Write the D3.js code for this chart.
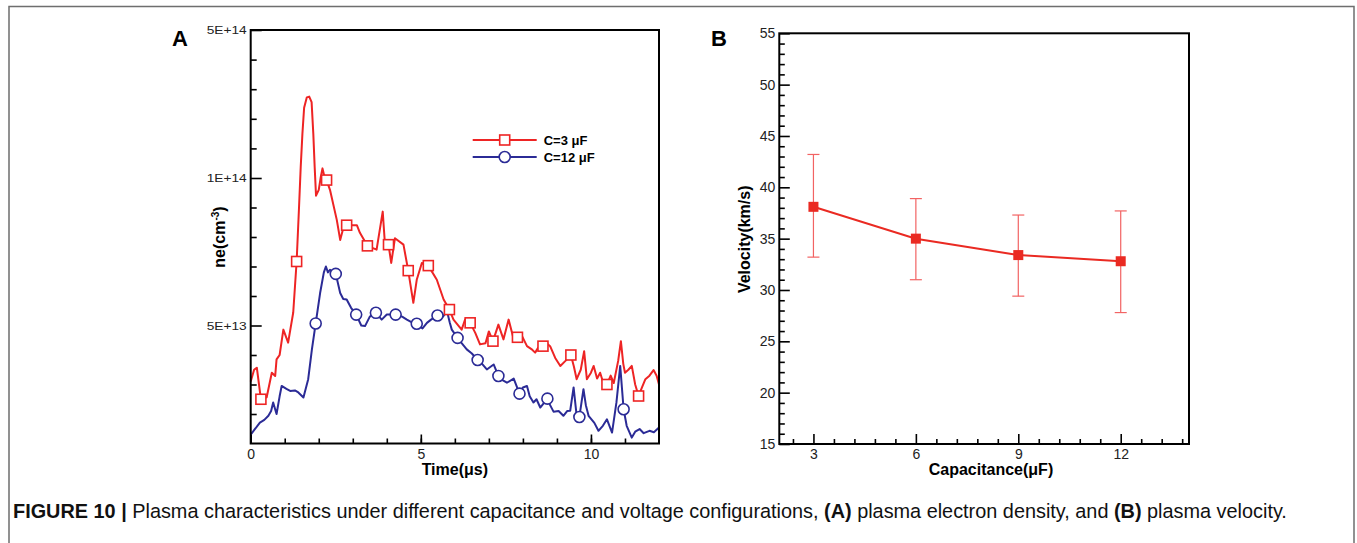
<!DOCTYPE html>
<html>
<head>
<meta charset="utf-8">
<script src="https://cdn.jsdelivr.net/npm/d3@7"></script>
<style>
  body { margin: 0; background: #fff; }
  svg, svg text { font-family: "Liberation Sans", Arial, sans-serif; }
</style>
</head>
<body>
<div id="chart"></div>
<script>
// ---- panel A: electron density (values in units of 1E+13 cm^-3) ----
const redT = [0, 0.1, 0.18, 0.3, 0.47, 0.62, 0.72, 0.76, 0.85, 0.96, 1.1, 1.25, 1.35, 1.42, 1.47, 1.52, 1.57, 1.65, 1.72, 1.79, 1.84, 1.88, 1.92, 2.0, 2.06, 2.11, 2.15, 2.23, 2.33, 2.53, 2.63, 2.72, 2.82, 3.12, 3.21, 3.43, 3.7, 3.88, 3.95, 4.05, 4.13, 4.24, 4.49, 4.63, 4.78, 4.88, 5.03, 5.22, 5.47, 5.67, 5.84, 5.96, 6.2, 6.3, 6.45, 6.6, 6.74, 6.9, 7.0, 7.12, 7.28, 7.43, 7.58, 7.73, 7.84, 7.95, 8.12, 8.25, 8.36, 8.45, 8.59, 8.7, 8.8, 8.95, 9.1, 9.25, 9.41, 9.5, 9.58, 9.7, 9.8, 9.88, 10.0, 10.08, 10.18, 10.27, 10.35, 10.47, 10.58, 10.67, 10.8, 10.88, 10.95, 11.0, 11.1, 11.2, 11.3, 11.4, 11.5, 11.6, 11.72, 11.84, 11.93, 12];
const redV = [3.1, 3.5, 3.57, 2.5, 2.57, 3.4, 3.29, 3.85, 4.0, 4.86, 4.42, 5.44, 7.17, 9.0, 13, 22, 29, 31.8, 32, 30.5, 22, 13, 9.4, 9.6, 10.3, 12.6, 11, 9.93, 9.6, 8.58, 7.9, 8.3, 8.4, 8.4, 8.14, 7.7, 7.57, 8.86, 7.68, 7.74, 7.12, 7.96, 7.74, 6.86, 5.77, 6.55, 7.12, 7.03, 6.55, 5.88, 5.54, 5.2, 4.86, 5.2, 5.09, 4.75, 4.36, 4.4, 4.8, 4.47, 5.03, 4.53, 5.2, 4.53, 4.6, 4.7, 4.3, 4.2, 4.08, 4.25, 4.3, 4.4, 4.3, 3.9, 3.63, 3.8, 4.0, 3.6, 3.18, 3.5, 4.13, 3.18, 3.4, 3.63, 3.2, 3.4, 3.1, 3.0, 3.3, 3.05, 3.8, 4.47, 3.7, 3.4, 3.5, 3.63, 3.0, 2.61, 2.9, 3.18, 3.3, 3.49, 3.3, 3.0];
const redMarks = [0.3, 1.35, 2.23, 2.82, 3.43, 4.05, 4.63, 5.22, 5.84, 6.45, 7.12, 7.84, 8.59, 9.41, 10.47, 11.4];

const blueT = [0, 0.1, 0.27, 0.4, 0.52, 0.6, 0.66, 0.76, 0.85, 0.91, 1.05, 1.16, 1.3, 1.4, 1.55, 1.69, 1.8, 1.91, 2.04, 2.15, 2.21, 2.27, 2.33, 2.5, 2.63, 2.72, 2.82, 2.95, 3.1, 3.25, 3.36, 3.5, 3.68, 3.85, 4.0, 4.26, 4.45, 4.59, 4.75, 4.88, 5.05, 5.18, 5.3, 5.49, 5.65, 5.77, 5.85, 5.91, 6.08, 6.2, 6.35, 6.5, 6.67, 6.8, 6.94, 7.14, 7.28, 7.4, 7.53, 7.73, 7.9, 8.0, 8.12, 8.2, 8.31, 8.4, 8.51, 8.72, 8.8, 8.9, 9.05, 9.19, 9.3, 9.39, 9.49, 9.58, 9.66, 9.78, 9.85, 9.93, 10.1, 10.22, 10.35, 10.47, 10.62, 10.75, 10.86, 10.96, 11.05, 11.2, 11.3, 11.43, 11.55, 11.72, 11.85, 12];
const blueV = [1.3, 1.45, 1.71, 1.8, 1.94, 2.1, 2.39, 2.0, 2.6, 2.95, 2.85, 2.78, 2.8, 2.73, 2.56, 3.18, 4.2, 5.07, 6.1, 6.8, 7.0, 6.8, 6.89, 6.75, 6.1, 5.9, 5.88, 5.6, 5.37, 5.0, 4.98, 5.3, 5.43, 5.2, 5.37, 5.37, 5.3, 5.2, 5.1, 5.06, 4.9, 5.09, 5.2, 5.34, 5.3, 5.48, 5.1, 4.86, 4.58, 4.4, 4.19, 4.05, 3.83, 3.7, 3.51, 3.68, 3.29, 3.15, 3.06, 3.2, 2.69, 2.9, 2.95, 2.6, 2.39, 2.5, 2.22, 2.52, 2.3, 2.08, 2.1, 1.94, 2.1, 2.11, 2.9, 1.94, 1.9, 2.84, 2.3, 1.94, 1.7, 1.43, 1.6, 1.82, 1.37, 2.4, 3.63, 2.16, 1.6, 1.2, 1.4, 1.49, 1.35, 1.43, 1.38, 1.54];
const blueMarks = [1.91, 2.5, 3.1, 3.68, 4.26, 4.88, 5.49, 6.08, 6.67, 7.28, 7.9, 8.72, 9.66, 10.96];

const legendA = ["C=3 \u03bcF", "C=12 \u03bcF"];
const neMajor = [5, 10, 50];
const neMajorLabels = ["5E+13", "1E+14", "5E+14"];
const neMinor = [2, 3, 4, 6, 7, 8, 9, 18, 26, 34, 42];

// ---- panel B: velocity vs capacitance ----
const capC = [3, 6, 9, 12];
const velV = [38.1, 35.0, 33.4, 32.8];
const velHi = [43.2, 38.9, 37.3, 37.7];
const velLo = [33.2, 31.0, 29.4, 27.8];

const caption = "Plasma characteristics under different capacitance and voltage configurations, ";

const red = "#ee2424", blue = "#2b2b96";
const font = "Liberation Sans, Arial, sans-serif";

const svg = d3.select("#chart").append("svg")
    .attr("width", 1357).attr("height", 543);

// figure border
svg.append("path")
    .attr("d", "M9,543 V6.5 H1354 V543")
    .attr("fill", "none").attr("stroke", "#6e6e6e").attr("stroke-width", 1.5);

// ================= panel A =================
const a = {left: 250.7, top: 30, right: 659, bottom: 443.5};
const gA = svg.append("g").attr("transform", "translate(" + a.left + "," + a.top + ")");
const wA = a.right - a.left, hA = a.bottom - a.top;

const xA = d3.scaleLinear().domain([0, 12]).range([0, wA]);
// axis is linear below 1E+14 and stretched above it (as drawn in the figure)
const yA = d3.scaleLinear().domain([1, 10, 50]).range([hA, 148, 0]);

gA.append("g").attr("transform", "translate(0," + hA + ")")
    .call(d3.axisBottom(xA).tickValues(d3.range(1, 12)).tickSize(-5).tickFormat(""))
    .call(g => g.select(".domain").remove());
gA.append("g").attr("class", "xAxisG").attr("transform", "translate(0," + hA + ")")
    .call(d3.axisBottom(xA).tickValues([0, 5, 10]).tickSize(-9).tickPadding(6).tickFormat(d3.format("d")))
    .call(g => g.select(".domain").remove())
    .selectAll("text").attr("font-size", 14).attr("font-family", font).attr("fill", "#222");

gA.append("g")
    .call(d3.axisLeft(yA).tickValues(neMinor).tickSize(-6).tickFormat(""))
    .call(g => g.select(".domain").remove());
gA.append("g").attr("class", "yAxisG")
    .call(d3.axisLeft(yA).tickValues(neMajor).tickSize(-11).tickPadding(4)
        .tickFormat((d, i) => neMajorLabels[i]))
    .call(g => g.select(".domain").remove())
    .selectAll("text").attr("font-size", 11.5).attr("font-family", font).attr("fill", "#222")
    .attr("textLength", 40).attr("lengthAdjust", "spacingAndGlyphs");

gA.selectAll(".tick line").attr("stroke", "#000").attr("stroke-width", 1.6);

const lineA = d3.line().x(d => xA(d[0])).y(d => yA(d[1]));
const redData = redT.map((t, i) => [t, redV[i]]);
const blueData = blueT.map((t, i) => [t, blueV[i]]);

gA.append("path").datum(redData).attr("d", lineA)
    .attr("fill", "none").attr("stroke", red).attr("stroke-width", 2).attr("stroke-linejoin", "round");
gA.append("path").datum(blueData).attr("d", lineA)
    .attr("fill", "none").attr("stroke", blue).attr("stroke-width", 2).attr("stroke-linejoin", "round");

gA.selectAll(".redMark")
    .data(redData.filter(d => redMarks.includes(d[0])))
    .join("rect").attr("class", "redMark")
    .attr("x", d => xA(d[0]) - 5).attr("y", d => yA(d[1]) - 5)
    .attr("width", 10).attr("height", 10)
    .attr("fill", "#fff").attr("stroke", red).attr("stroke-width", 1.6);
gA.selectAll(".blueMark")
    .data(blueData.filter(d => blueMarks.includes(d[0])))
    .join("circle").attr("class", "blueMark")
    .attr("cx", d => xA(d[0])).attr("cy", d => yA(d[1])).attr("r", 5.5)
    .attr("fill", "#fff").attr("stroke", blue).attr("stroke-width", 1.6);

gA.append("rect").attr("width", wA).attr("height", hA)
    .attr("fill", "none").attr("stroke", "#000").attr("stroke-width", 2);

// legend
const leg = gA.append("g").attr("transform", "translate(222,110)");
[red, blue].forEach((c, i) => {
    const row = leg.append("g").attr("transform", "translate(0," + (i * 17) + ")");
    row.append("line").attr("x1", 0).attr("x2", 64).attr("stroke", c).attr("stroke-width", 2);
    if (i === 0) {
        row.append("rect").attr("x", 27).attr("y", -5).attr("width", 10).attr("height", 10)
            .attr("fill", "#fff").attr("stroke", c).attr("stroke-width", 1.6);
    } else {
        row.append("circle").attr("cx", 32).attr("r", 5.5)
            .attr("fill", "#fff").attr("stroke", c).attr("stroke-width", 1.6);
    }
    row.append("text").attr("x", 71).attr("y", 4.5).attr("font-size", 13).attr("font-weight", "bold")
        .text(legendA[i]);
});

gA.append("text").attr("x", wA / 2).attr("y", hA + 31).attr("text-anchor", "middle")
    .attr("font-size", 16).attr("font-weight", "bold").text("Time(\u03bcs)");
const yTitleA = gA.append("text").attr("transform", "translate(-26,207) rotate(-90)")
    .attr("text-anchor", "middle").attr("font-size", 16).attr("font-weight", "bold");
yTitleA.append("tspan").text("ne(cm");
yTitleA.append("tspan").attr("font-size", 10).attr("dy", -6).text("-3");
yTitleA.append("tspan").attr("dy", 6).text(")");

svg.append("text").attr("x", 172).attr("y", 46).attr("font-size", 22).attr("font-weight", "bold").text("A");

// ================= panel B =================
const b = {left: 779.3, top: 33.3, right: 1189, bottom: 444};
const gB = svg.append("g").attr("transform", "translate(" + b.left + "," + b.top + ")");
const wB = b.right - b.left, hB = b.bottom - b.top;

const xB = d3.scaleLinear().domain([2, 14]).range([0, wB]);
const yB = d3.scaleLinear().domain([15, 55]).range([hB, 0]);

gB.append("g").attr("transform", "translate(0," + hB + ")")
    .call(d3.axisBottom(xB).tickValues(d3.range(2.4, 14, 0.6).filter(v => Math.abs(v % 3) > 0.01 && Math.abs(v % 3 - 3) > 0.01))
        .tickSize(-5).tickFormat(""))
    .call(g => g.select(".domain").remove());
gB.append("g").attr("transform", "translate(0," + hB + ")")
    .call(d3.axisBottom(xB).tickValues(capC).tickSize(-10).tickPadding(5))
    .call(g => g.select(".domain").remove())
    .selectAll("text").attr("font-size", 14).attr("font-family", font).attr("fill", "#222");

gB.append("g")
    .call(d3.axisLeft(yB).tickValues(d3.range(16, 55).filter(v => v % 5 !== 0)).tickSize(-5.5).tickFormat(""))
    .call(g => g.select(".domain").remove());
gB.append("g")
    .call(d3.axisLeft(yB).tickValues(d3.range(15, 56, 5)).tickSize(-10.5).tickPadding(4))
    .call(g => g.select(".domain").remove())
    .selectAll("text").attr("font-size", 14).attr("font-family", font).attr("fill", "#222");

gB.selectAll(".tick line").attr("stroke", "#000").attr("stroke-width", 1.6);

const velData = capC.map((c, i) => ({c: c, v: velV[i], hi: velHi[i], lo: velLo[i]}));

const err = gB.selectAll(".errG").data(velData).join("g").attr("class", "errG")
    .attr("stroke", "#f26363").attr("stroke-width", 1.2);
err.append("line").attr("x1", d => xB(d.c)).attr("x2", d => xB(d.c))
    .attr("y1", d => yB(d.hi)).attr("y2", d => yB(d.lo));
err.append("line").attr("x1", d => xB(d.c) - 6).attr("x2", d => xB(d.c) + 6)
    .attr("y1", d => yB(d.hi)).attr("y2", d => yB(d.hi));
err.append("line").attr("x1", d => xB(d.c) - 6).attr("x2", d => xB(d.c) + 6)
    .attr("y1", d => yB(d.lo)).attr("y2", d => yB(d.lo));

gB.append("path").datum(velData)
    .attr("d", d3.line().x(d => xB(d.c)).y(d => yB(d.v)))
    .attr("fill", "none").attr("stroke", "#ea2a22").attr("stroke-width", 2);
gB.selectAll(".velMark").data(velData).join("rect").attr("class", "velMark")
    .attr("x", d => xB(d.c) - 5).attr("y", d => yB(d.v) - 5)
    .attr("width", 10).attr("height", 10).attr("fill", "#ea2a22");

gB.append("rect").attr("width", wB).attr("height", hB)
    .attr("fill", "none").attr("stroke", "#000").attr("stroke-width", 2);

gB.append("text").attr("x", xB(8.2)).attr("y", hB + 31).attr("text-anchor", "middle")
    .attr("font-size", 16).attr("font-weight", "bold").text("Capacitance(\u03bcF)");
gB.append("text").attr("transform", "translate(-29,206) rotate(-90)")
    .attr("text-anchor", "middle").attr("font-size", 16).attr("font-weight", "bold")
    .text("Velocity(km/s)");

svg.append("text").attr("x", 711).attr("y", 46).attr("font-size", 22).attr("font-weight", "bold").text("B");

// ================= caption =================
const cap = svg.append("text").attr("x", 13).attr("y", 518).attr("font-size", 16).attr("fill", "#111");
cap.append("tspan").attr("font-weight", "bold").text("FIGURE 10 | ");
cap.append("tspan").text(caption);
cap.append("tspan").attr("font-weight", "bold").text("(A)");
cap.append("tspan").text(" plasma electron density, and ");
cap.append("tspan").attr("font-weight", "bold").text("(B)");
cap.append("tspan").text(" plasma velocity.");
const capW = cap.node().getComputedTextLength();
cap.attr("font-size", 16 * 1274 / capW);
</script>
</body>
</html>
